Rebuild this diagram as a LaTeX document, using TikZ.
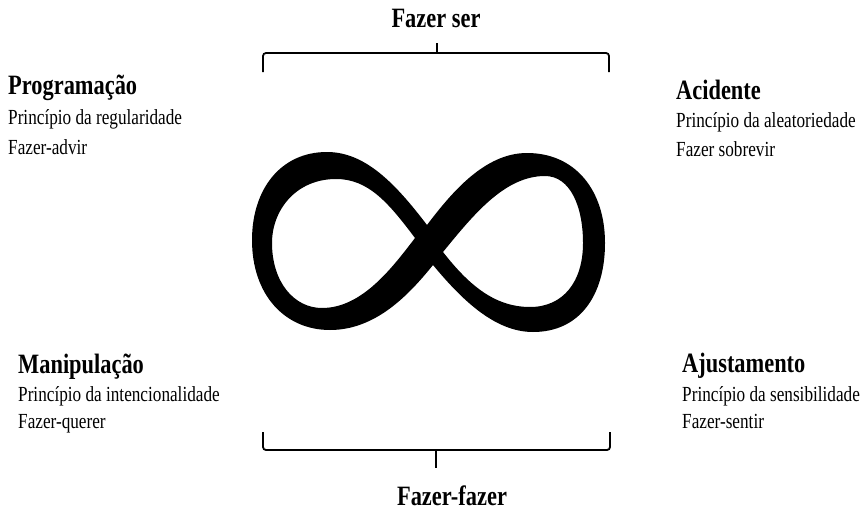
\documentclass[tikz,border=0pt]{standalone}
\usepackage{fontspec}
\setmainfont{Liberation Serif}[FakeStretch=0.8]
\usepackage{tikz}

\tikzset{
  head/.style={anchor=base west, inner sep=0pt, font=\fontsize{28}{32}\selectfont\bfseries},
  body/.style={anchor=base west, inner sep=0pt, font=\fontsize{21.5}{26}\selectfont},
  bracket/.style={line width=1.8pt, rounded corners=3pt}
}

\begin{document}
\begin{tikzpicture}[x=1pt, y=-1pt]
    \useasboundingbox (0,0) rectangle (866,511);

    % upper left
    \node[head] (prog)  at (8,94)  {Programação};
    \node[body] (progA) at (8,124) {Princípio da regularidade};
    \node[body] (progB) at (8,154) {Fazer-advir};

    % upper right
    \node[head] (acid)  at (676,99)  {Acidente};
    \node[body] (acidA) at (676,127) {Princípio da aleatoriedade};
    \node[body] (acidB) at (676,156) {Fazer sobrevir};

    % lower left
    \node[head] (mani)  at (18,373) {Manipulação};
    \node[body] (maniA) at (18,401) {Princípio da intencionalidade};
    \node[body] (maniB) at (18,428) {Fazer-querer};

    % lower right
    \node[head] (ajus)  at (682,372) {Ajustamento};
    \node[body] (ajusA) at (682,401) {Princípio da sensibilidade};
    \node[body] (ajusB) at (682,428) {Fazer-sentir};

    % brackets
    \node[head, anchor=base] (ser)   at (436,28)  {Fazer ser};
    \node[head, anchor=base] (fazer) at (452,505) {Fazer-fazer};
    \draw[bracket] (263,72) -- (263,53) -- (609,53) -- (609,72);
    \draw[line width=1.8pt] (437,53) -- (437,43);
    \draw[bracket] (263,432) -- (263,450) -- (610,450) -- (610,432);
    \draw[line width=1.8pt] (436,450) -- (436,468);

    % infinity
    \fill[even odd rule]
        (427,225) .. controls (395,183) and (365,152) .. (327,152)
                  .. controls (280,152) and (252,190) .. (252,240)
                  .. controls (252,295) and (285,330) .. (330,330)
                  .. controls (375,330) and (408,296) .. (433,265)
                  .. controls (462,300) and (495,332) .. (533,332)
                  .. controls (580,332) and (605,295) .. (605,243)
                  .. controls (605,190) and (575,153) .. (527,153)
                  .. controls (485,153) and (452,192) .. (427,225) -- cycle
        (415,238) .. controls (388,202) and (368,179) .. (336,179)
                  .. controls (296,179) and (272,210) .. (272,243)
                  .. controls (272,282) and (294,308) .. (322,308)
                  .. controls (362,308) and (392,268) .. (415,238) -- cycle
        (443,252) .. controls (474,214) and (505,176) .. (545,176)
                  .. controls (570,176) and (583,206) .. (583,243)
                  .. controls (583,282) and (563,307) .. (530,307)
                  .. controls (494,307) and (468,284) .. (443,252) -- cycle;
\end{tikzpicture}
\end{document}
